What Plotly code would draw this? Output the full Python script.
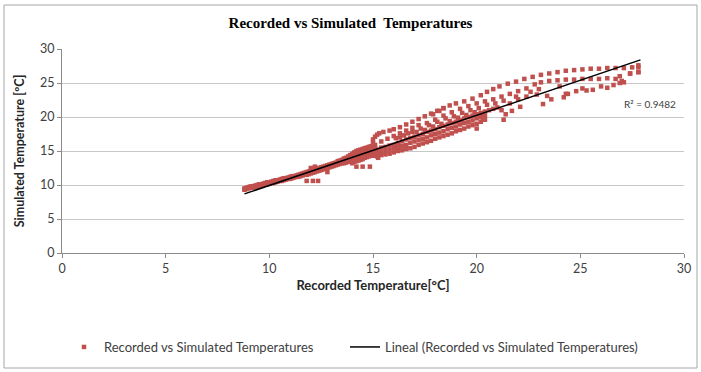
import plotly.graph_objects as go

# ---- data ----
band_rec = [8.8, 8.9, 9.0, 9.1, 9.2, 9.3, 9.4, 9.5, 9.6, 9.7, 9.8, 9.9, 10.0, 10.1, 10.2, 10.3,
            10.4, 10.5, 10.6, 10.7, 10.8, 10.9, 11.0, 11.1, 11.2, 11.3, 11.4, 11.5, 11.6, 11.7,
            11.8, 11.9, 12.0, 12.1, 12.2, 12.3, 12.4, 12.5, 12.6, 12.7, 12.8, 12.9, 13.0, 13.1,
            13.2, 13.3, 13.4, 13.5]
band_hi = [9.5, 9.6, 9.7, 9.8, 9.8, 9.9, 10.0, 10.1, 10.1, 10.2, 10.3, 10.4, 10.4, 10.5, 10.6,
           10.7, 10.7, 10.8, 10.9, 11.0, 11.0, 11.1, 11.2, 11.3, 11.3, 11.4, 11.5, 11.6, 11.7,
           11.8, 11.9, 12.0, 12.1, 12.2, 12.4, 12.4, 12.5, 12.6, 12.7, 12.8, 12.9, 13.0, 13.1,
           13.2, 13.3, 13.5, 13.6, 13.7]
band_lo = [9.3, 9.4, 9.5, 9.6, 9.6, 9.7, 9.8, 9.8, 9.9, 10.0, 10.1, 10.1, 10.2, 10.3, 10.3,
           10.4, 10.5, 10.6, 10.6, 10.7, 10.8, 10.9, 10.9, 11.0, 11.1, 11.2, 11.2, 11.3, 11.4,
           11.5, 11.5, 11.6, 11.7, 11.8, 11.9, 12.0, 12.1, 12.2, 12.3, 12.4, 12.5, 12.6, 12.7,
           12.8, 12.9, 13.0, 13.1, 13.2]

outlier_rec = [11.8, 12.1, 12.35, 12.8, 14.2, 14.5, 14.85, 15.25, 12.2, 12.0]
outlier_sim = [10.6, 10.6, 10.6, 11.9, 12.7, 12.7, 12.7, 14.0, 12.7, 12.5]

cluster_rec = [13.6, 13.6, 13.6, 13.7, 13.7, 13.7, 13.8, 13.8, 13.8, 13.9, 13.9, 13.9,
               14.0, 14.0, 14.0, 14.0, 14.1, 14.1, 14.1, 14.1, 14.2, 14.2, 14.2, 14.2,
               14.3, 14.3, 14.3, 14.3, 14.4, 14.4, 14.4, 14.4, 14.5, 14.5, 14.5, 14.5,
               14.6, 14.6, 14.6, 14.6, 14.7, 14.7, 14.7, 14.7, 14.8, 14.8, 14.8, 14.8,
               14.9, 14.9, 14.9, 15.0, 15.0, 15.0, 15.0, 15.1, 15.1, 15.1]
cluster_sim = [13.9, 13.5, 13.2, 14.0, 13.6, 13.3, 14.2, 13.8, 13.4, 14.4, 13.9, 13.5,
               14.6, 14.1, 13.6, 13.2, 14.8, 14.3, 13.8, 13.4, 15.0, 14.4, 13.9, 13.5,
               15.1, 14.6, 14.1, 13.6, 15.2, 14.8, 14.2, 13.7, 15.3, 14.9, 14.4, 13.8,
               15.4, 15.0, 14.5, 14.0, 15.5, 15.1, 14.6, 14.1, 15.6, 15.2, 14.7, 14.2,
               15.7, 15.3, 14.8, 15.8, 15.4, 14.9, 14.3, 15.9, 15.5, 14.6]

top_rec = [15.0, 15.0, 15.1, 15.2, 15.3, 15.5, 15.8, 16.0, 16.3, 16.6, 16.9, 17.2, 17.5, 17.8,
           18.1, 18.4, 18.7, 19.0, 19.4, 19.8, 20.2, 20.5, 20.8, 21.1, 21.5, 21.9, 22.3, 22.7,
           23.1, 23.5, 23.9, 24.3, 24.7, 25.1, 25.5, 25.9, 26.3, 26.7, 27.1, 27.5, 27.8]
top_sim = [16.2, 16.7, 17.1, 17.4, 17.6, 17.8, 18.0, 18.2, 18.5, 18.9, 19.3, 19.7, 20.1, 20.5,
           20.9, 21.3, 21.7, 22.0, 22.3, 22.7, 23.2, 23.7, 24.1, 24.5, 24.9, 25.2, 25.6, 25.9,
           26.2, 26.4, 26.6, 26.8, 26.9, 27.0, 27.1, 27.1, 27.2, 27.2, 27.2, 27.3, 27.6]

second_rec = [15.4, 15.7, 16.0, 16.3, 16.6, 16.9, 17.2, 17.6, 18.0, 18.4, 18.8, 19.2, 19.6,
              20.0, 20.4, 20.8, 21.2, 21.6, 22.0, 22.4, 22.8, 23.1, 23.5, 23.9, 24.3, 24.7,
              25.1, 25.5, 25.9, 26.3, 26.7, 27.0, 27.4, 27.8]
second_sim = [16.4, 16.8, 17.2, 17.6, 18.0, 18.4, 18.8, 19.1, 19.6, 20.2, 20.7, 21.2, 21.6,
              22.0, 22.3, 22.6, 23.0, 23.4, 23.8, 24.2, 24.8, 25.1, 25.3, 25.4, 25.5, 25.5,
              25.6, 25.6, 25.6, 25.7, 25.6, 25.3, 26.4, 26.6]

mid_rec = [15.2, 15.4, 15.6, 15.8, 16.0, 16.2, 16.4, 16.6, 16.8, 17.0, 17.2, 17.4, 17.6, 17.8,
           18.0, 18.2, 18.4, 18.6, 18.8, 19.0, 19.2, 19.4, 19.6, 19.8, 20.0, 20.2, 20.4]
mid_hi = [15.2, 15.5, 15.6, 15.8, 15.9, 16.2, 16.4, 16.7, 16.9, 17.1, 17.3, 17.5, 17.8, 18.0,
          18.2, 18.5, 18.7, 18.9, 19.1, 19.3, 19.5, 19.8, 20.0, 20.2, 20.4, 20.6, 20.8]
mid_md = [14.7, 14.9, 15.0, 15.2, 15.4, 15.6, 15.7, 15.9, 16.2, 16.4, 16.6, 16.8, 17.0, 17.3,
          17.5, 17.7, 17.9, 18.2, 18.4, 18.6, 18.9, 19.1, 19.3, 19.5, 19.8, 20.0, 20.2]
mid_lo = [14.2, 14.4, 14.5, 14.6, 14.8, 15.0, 15.1, 15.3, 15.4, 15.6, 15.9, 16.1, 16.3, 16.5,
          16.8, 17.0, 17.2, 17.4, 17.6, 17.9, 18.1, 18.3, 18.6, 18.8, 19.0, 19.3, 19.6]

extra_rec = [16.1, 16.5, 16.9, 17.3, 17.7, 18.1, 18.5, 18.9, 19.3, 19.7, 20.1, 20.5, 20.9, 21.3,
             20.6, 20.8, 21.0, 21.2, 21.4, 20.3, 21.3, 20.0,
             17.1, 17.5, 17.9, 18.3, 18.7, 19.1, 19.5, 19.9,
             16.3, 16.7, 18.4, 18.2, 17.9]
extra_sim = [16.9, 17.3, 17.8, 18.3, 18.8, 19.3, 19.8, 20.1, 20.6, 21.0, 21.3, 21.8, 22.0, 22.4,
             21.0, 21.2, 21.4, 21.0, 20.4, 19.6, 19.6, 18.3,
             17.8, 18.1, 18.6, 19.0, 19.4, 19.9, 20.3, 20.7,
             17.0, 17.6, 21.3, 20.9, 20.4]

right_rec = [21.6, 22.0, 22.4, 22.9, 23.2, 23.6, 24.2, 24.4, 24.8, 25.1, 25.6, 26.0, 26.3, 26.6,
             26.9, 27.1, 22.1, 21.7, 25.3, 23.4, 24.3, 26.9, 27.4, 27.8, 27.8, 21.9, 22.6, 23.0, 24.0]
right_sim = [22.0, 22.6, 23.0, 23.3, 21.9, 22.6, 22.9, 23.4, 23.8, 24.2, 24.0, 24.5, 24.3, 24.7,
             25.0, 25.1, 21.5, 20.9, 23.9, 23.1, 23.4, 26.0, 26.4, 26.6, 27.3, 23.0, 23.7, 24.1, 24.5]

trend_x = [8.8, 27.9]
trend_y = [8.7, 28.4]
r_squared = 0.9482

x_ticks = [0, 5, 10, 15, 20, 25, 30]
y_ticks = [0, 5, 10, 15, 20, 25, 30]

recorded = (band_rec + band_rec + outlier_rec + cluster_rec + top_rec + second_rec
            + mid_rec + mid_rec + mid_rec + extra_rec + right_rec)
simulated = (band_hi + band_lo + outlier_sim + cluster_sim + top_sim + second_sim
             + mid_hi + mid_md + mid_lo + extra_sim + right_sim)

# ---- figure ----
W, H = 701, 372
L, R, T, B = 62, 17, 49, 119
pw, ph = W - L - R, H - T - B

fig = go.Figure()
fig.add_trace(go.Scatter(
    x=recorded, y=simulated, mode="markers",
    name="Recorded vs Simulated Temperatures",
    marker=dict(symbol="square", size=4.5, color="#C0504D", line=dict(width=0)),
    legend="legend",
))
fig.add_trace(go.Scatter(
    x=trend_x, y=trend_y, mode="lines",
    name="Lineal (Recorded vs Simulated Temperatures)",
    line=dict(color="black", width=1.5),
    legend="legend2",
))

FONT = "Lato, Open Sans, sans-serif"
tick_font = dict(family=FONT, size=12.5, color="#404040")
axis_col = "#8C8C8C"
leg_y = -(347 - (T + ph)) / ph
leg_font = dict(family=FONT, size=13, color="#404040")

fig.update_layout(
    width=W, height=H,
    margin=dict(l=L, r=R, t=T, b=B, autoexpand=False),
    paper_bgcolor="white", plot_bgcolor="white",
    title=dict(text="<b>Recorded vs Simulated  Temperatures</b>",
               font=dict(family="Liberation Serif, serif", size=15, color="black"),
               x=0.5, xref="container", xanchor="center",
               y=1 - 23 / H, yref="container", yanchor="middle"),
    showlegend=True,
    legend=dict(orientation="h", x=(64 - L) / pw, xanchor="left",
                y=leg_y, yanchor="middle", font=leg_font, bgcolor="rgba(0,0,0,0)"),
    legend2=dict(orientation="h", x=(345 - L) / pw, xanchor="left",
                 y=leg_y, yanchor="middle", font=leg_font, bgcolor="rgba(0,0,0,0)"),
    xaxis=dict(range=[0, 30], tickvals=x_ticks, showgrid=False, zeroline=False,
               showline=True, linecolor=axis_col, linewidth=1,
               ticks="outside", ticklen=4, tickcolor=axis_col, tickfont=tick_font,
               title=dict(text="<b>Recorded Temperature[°C]</b>",
                          font=dict(family=FONT, size=13, color="#262626"),
                          standoff=5)),
    yaxis=dict(range=[0, 30], tickvals=y_ticks, showgrid=True, gridcolor="#C8C8C8",
               gridwidth=1, zeroline=False,
               showline=True, linecolor=axis_col, linewidth=1,
               ticks="outside", ticklen=4, tickcolor=axis_col, tickfont=tick_font,
               title=dict(text="<b>Simulated Temperature [ºC]</b>",
                          font=dict(family=FONT, size=12.5, color="#262626"),
                          standoff=12)),
    annotations=[dict(x=27.0, y=21.9, xref="x", yref="y", xanchor="left", yanchor="middle",
                      text="R² = " + str(r_squared), showarrow=False,
                      font=dict(family=FONT, size=10, color="#404040"))],
    shapes=[dict(type="rect", xref="paper", yref="paper",
                 x0=(4 - L) / pw, x1=(697 - L) / pw,
                 y0=-(368 - (T + ph)) / ph, y1=(ph + T - 5) / ph,
                 line=dict(color="#A6A6A6", width=1), fillcolor="rgba(0,0,0,0)", layer="below")],
)

fig.write_html("out.html", config={"displayModeBar": False},
               post_script="document.body.style.margin='0';document.body.style.padding='0';")
